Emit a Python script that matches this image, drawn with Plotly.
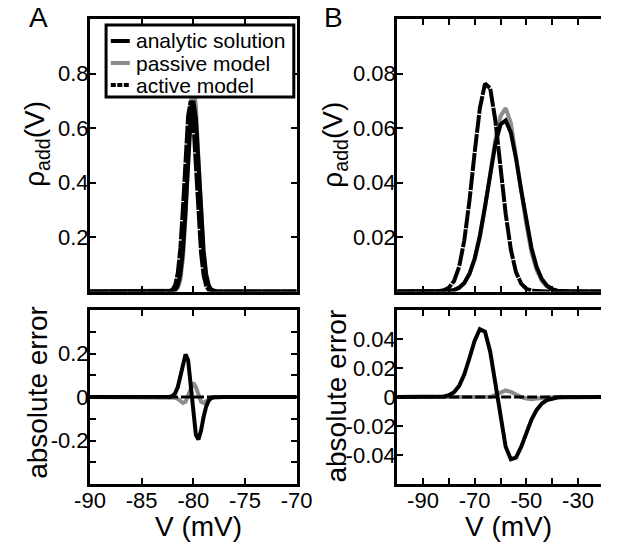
import plotly.graph_objects as go

W, H = 617, 544

# ---------------- Panel A data (V in mV) ----------------
a_v = [-90, -83, -82.75, -82.5, -82.25, -82, -81.75, -81.5, -81.25, -81, -80.75, -80.5,
       -80.25, -80, -79.75, -79.5, -79.25, -79, -78.75, -78.5, -78.25, -78, -77.75,
       -77.5, -77.25, -77, -70]
a_analytic = [0, 0, 0, 0, 0.0003, 0.0015, 0.0063, 0.022, 0.063, 0.150, 0.295, 0.476,
              0.636, 0.700, 0.636, 0.476, 0.295, 0.150, 0.063, 0.022, 0.0063, 0.0015,
              0.0003, 0, 0, 0, 0]
a_passive = [0, 0, 0, 0, 0.0001, 0.0005, 0.0033, 0.013, 0.044, 0.123, 0.273, 0.484,
             0.681, 0.765, 0.681, 0.484, 0.273, 0.123, 0.044, 0.013, 0.0033, 0.0005,
             0.0001, 0, 0, 0, 0]
a_active = [0, 0, 0, 0.0003, 0.0017, 0.0070, 0.024, 0.068, 0.160, 0.308, 0.491, 0.645,
            0.700, 0.626, 0.462, 0.281, 0.141, 0.059, 0.020, 0.0056, 0.0013, 0.0003,
            0, 0, 0, 0, 0]
a_err_passive = [0, 0, 0, 0, -0.0002, -0.001, -0.003, -0.009, -0.019, -0.027, -0.022, 0.008,
                 0.045, 0.065, 0.045, 0.008, -0.022, -0.027, -0.019, -0.009, -0.003, -0.001,
                 -0.0002, 0, 0, 0, 0]
a_err_active = [0, 0, 0, 0.0003, 0.0014, 0.0055, 0.018, 0.046, 0.097, 0.158, 0.196, 0.169,
                0.064, -0.074, -0.174, -0.195, -0.154, -0.091, -0.043, -0.016, -0.005, -0.0012,
                -0.0003, 0, 0, 0, 0]
a_zero_v = [-90, -70]
a_zero = [0, 0]

# ---------------- Panel B data (V in mV) ----------------
b_v = [-100, -90, -88, -86, -84, -82, -80, -78, -76, -74, -72, -70, -68, -66, -64, -62,
       -60, -58, -56, -54, -52, -50, -48, -46, -44, -42, -40, -38, -36, -34, -32, -30, -20]
b_analytic = [0, 0, 0, 0.000005, 0.00002, 0.00006, 0.0002, 0.00055, 0.0014, 0.0031, 0.0065,
              0.0121, 0.0204, 0.0312, 0.0432, 0.0541, 0.0613, 0.0628, 0.0583, 0.0489, 0.0372,
              0.0256, 0.0159, 0.0090, 0.0046, 0.0021, 0.0009, 0.0003, 0.0001, 0.00003,
              0.00001, 0, 0]
b_passive = [0, 0, 0, 0.000005, 0.00002, 0.00006, 0.0002, 0.00055, 0.0014, 0.0031, 0.0065,
             0.0117, 0.0198, 0.0306, 0.0432, 0.0556, 0.0643, 0.0673, 0.0618, 0.0504, 0.0372,
             0.0246, 0.0144, 0.0079, 0.0039, 0.0018, 0.0008, 0.0003, 0.0001, 0.00003,
             0.00001, 0, 0]
b_active = [0, 0.000001, 0.000005, 0.00003, 0.00011, 0.00043, 0.0014, 0.0038, 0.0091, 0.0188,
            0.0334, 0.0510, 0.0672, 0.0763, 0.0746, 0.0629, 0.0456, 0.0285, 0.0154, 0.0071,
            0.0029, 0.0010, 0.0003, 0.00008, 0.00002, 0, 0, 0, 0, 0, 0, 0, 0]
b_err_passive = [0, 0, 0, 0, 0, 0, 0, 0, 0, 0, 0, -0.0004, -0.0006, -0.0006, 0, 0.0015,
                 0.003, 0.0045, 0.0035, 0.0015, 0, -0.001, -0.0015, -0.0011, -0.0007, -0.0003,
                 -0.0001, 0, 0, 0, 0, 0, 0]
b_err_active = [0, 0, 0.000005, 0.00002, 0.0001, 0.00037, 0.0012, 0.0033, 0.0077, 0.0157,
                0.0269, 0.0389, 0.0468, 0.0451, 0.0314, 0.0088, -0.0157, -0.0343, -0.0429,
                -0.0418, -0.0344, -0.0246, -0.0156, -0.0089, -0.0045, -0.0021, -0.0009,
                -0.0003, -0.0001, 0, 0, 0, 0]
b_zero_v = [-100, -20]
b_zero = [0, 0]

names = ["analytic solution", "passive model", "active model"]

BLACK = "black"
GRAY = "#8c8c8c"
LW = 4
DASH = "18px,1.2px"

fig = go.Figure()

# Panel A top
fig.add_trace(go.Scatter(x=a_v, y=a_passive, mode="lines", name=names[1], showlegend=False,
                         line=dict(color=GRAY, width=LW), xaxis="x", yaxis="y"))
fig.add_trace(go.Scatter(x=a_v, y=a_analytic, mode="lines", name=names[0], showlegend=False,
                         line=dict(color=BLACK, width=LW), xaxis="x", yaxis="y"))
fig.add_trace(go.Scatter(x=a_v, y=a_active, mode="lines", name=names[2], showlegend=False,
                         line=dict(color=BLACK, width=LW, dash=DASH), xaxis="x", yaxis="y"))
# Panel A bottom
fig.add_trace(go.Scatter(x=a_v, y=a_err_passive, mode="lines", showlegend=False,
                         line=dict(color=GRAY, width=LW), xaxis="x2", yaxis="y2"))
fig.add_trace(go.Scatter(x=a_zero_v, y=a_zero, mode="lines", showlegend=False,
                         line=dict(color=BLACK, width=3, dash="10px,3px"), xaxis="x2", yaxis="y2"))
fig.add_trace(go.Scatter(x=a_v, y=a_err_active, mode="lines", showlegend=False,
                         line=dict(color=BLACK, width=LW), xaxis="x2", yaxis="y2"))
# Panel B top
fig.add_trace(go.Scatter(x=b_v, y=b_passive, mode="lines", showlegend=False,
                         line=dict(color=GRAY, width=LW), xaxis="x3", yaxis="y3"))
fig.add_trace(go.Scatter(x=b_v, y=b_analytic, mode="lines", showlegend=False,
                         line=dict(color=BLACK, width=LW), xaxis="x3", yaxis="y3"))
fig.add_trace(go.Scatter(x=b_v, y=b_active, mode="lines", showlegend=False,
                         line=dict(color=BLACK, width=LW, dash=DASH), xaxis="x3", yaxis="y3"))
# Panel B bottom
fig.add_trace(go.Scatter(x=b_v, y=b_err_passive, mode="lines", showlegend=False,
                         line=dict(color=GRAY, width=LW), xaxis="x4", yaxis="y4"))
fig.add_trace(go.Scatter(x=b_zero_v, y=b_zero, mode="lines", showlegend=False,
                         line=dict(color=BLACK, width=3, dash="10px,3px"), xaxis="x4", yaxis="y4"))
fig.add_trace(go.Scatter(x=b_v, y=b_err_active, mode="lines", showlegend=False,
                         line=dict(color=BLACK, width=LW), xaxis="x4", yaxis="y4"))


def px_x(p):
    return p / W


def px_y(p):
    return 1 - p / H


common = dict(showline=True, linewidth=3, linecolor=BLACK, ticks="inside",
              ticklen=6, tickwidth=2, tickcolor=BLACK, showgrid=False, zeroline=False,
              tickfont=dict(size=22, color=BLACK))
MINOR = dict(ticks="inside", ticklen=6, tickwidth=2, tickcolor=BLACK, showgrid=False)
XSO = -5
YSO = -6

xA = [px_x(78), px_x(296)]
xB = [px_x(402), 1.0]
yT = [px_y(291.5), px_y(19)]
yBm = [px_y(484), px_y(310)]

fig.update_layout(
    xaxis=dict(domain=xA, range=[-90, -70], anchor="y", tickvals=[-85, -80, -75],
               showticklabels=False, mirror="ticks", **common),
    yaxis=dict(domain=yT, range=[0, 1], anchor="x", tickvals=[0.2, 0.4, 0.6, 0.8],
               ticktext=["0.2", "0.4", "0.6", "0.8"], mirror="ticks",
               ticklabelstandoff=YSO, **common),
    xaxis2=dict(domain=xA, range=[-90, -70], anchor="y2", tickvals=[-90, -85, -80, -75, -70],
                ticktext=["-90", "-85", "-80", "-75", "-70"], mirror="ticks",
                ticklabelstandoff=XSO, **common),
    yaxis2=dict(domain=yBm, range=[-0.4, 0.4], anchor="x2",
                tickvals=[-0.2, 0, 0.2], ticktext=["-0.2", "0", "0.2"],
                minor=dict(tickvals=[-0.3, -0.1, 0.1, 0.3], **MINOR), mirror="ticks",
                ticklabelstandoff=YSO, **common),
    xaxis3=dict(domain=xB, range=[-100, -21.1], anchor="y3",
                tickvals=[-90, -80, -70, -60, -50, -40, -30], showticklabels=False,
                mirror="ticks", **common),
    yaxis3=dict(domain=yT, range=[0, 0.1], anchor="x3", tickvals=[0.02, 0.04, 0.06, 0.08],
                ticktext=["0.02", "0.04", "0.06", "0.08"], mirror=False,
                ticklabelstandoff=YSO, **common),
    xaxis4=dict(domain=xB, range=[-100, -21.1], anchor="y4",
                tickvals=[-90, -70, -50, -30], ticktext=["-90", "-70", "-50", "-30"],
                minor=dict(tickvals=[-80, -60, -40], **MINOR), mirror="ticks",
                ticklabelstandoff=XSO, **common),
    yaxis4=dict(domain=yBm, range=[-0.06, 0.06], anchor="x4",
                tickvals=[-0.04, -0.02, 0, 0.02, 0.04],
                ticktext=["-0.04", "-0.02", "0", "0.02", "0.04"], mirror=False,
                ticklabelstandoff=YSO, **common),
)

TF = dict(size=28, color=BLACK)
annotations = [
    dict(text="A", x=px_x(24), y=px_y(18), font=TF),
    dict(text="B", x=px_x(335), y=px_y(18), font=TF),
    dict(text="ρ<sub>add</sub>(V)", x=px_x(22), y=px_y(144), font=TF, textangle=-90),
    dict(text="ρ<sub>add</sub>(V)", x=px_x(335), y=px_y(145), font=TF, textangle=-90),
    dict(text="absolute error", x=px_x(22), y=px_y(392), font=TF, textangle=-90),
    dict(text="absolute error", x=px_x(337), y=px_y(396), font=TF, textangle=-90),
    dict(text="V (mV)", x=px_x(192), y=px_y(526), font=TF),
    dict(text="V (mV)", x=px_x(519), y=px_y(526), font=TF),
]

# legend (box, line samples, labels) in panel A
LEG_X0, LEG_X1, LEG_Y0, LEG_Y1 = 95, 293, 25, 97
row_y = [41, 63, 85]
styles = [dict(color=BLACK, width=LW), dict(color=GRAY, width=LW),
          dict(color=BLACK, width=LW, dash="5px,1.5px")]
shapes = [dict(type="rect", xref="paper", yref="paper", layer="above",
               x0=px_x(LEG_X0), x1=px_x(LEG_X1), y0=px_y(LEG_Y1), y1=px_y(LEG_Y0),
               fillcolor="white", line=dict(color=BLACK, width=3))]
for ry, st, nm in zip(row_y, styles, names):
    shapes.append(dict(type="line", xref="paper", yref="paper", layer="above",
                       x0=px_x(100), x1=px_x(120), y0=px_y(ry), y1=px_y(ry), line=st))
    annotations.append(dict(text=nm, x=px_x(124), y=px_y(ry), font=dict(size=21, color=BLACK),
                            xanchor="left"))

for a in annotations:
    a.setdefault("xanchor", "center")
    a.update(xref="paper", yref="paper", showarrow=False, yanchor="middle")

fig.update_layout(
    width=W, height=H, margin=dict(l=0, r=0, t=0, b=0),
    paper_bgcolor="white", plot_bgcolor="white",
    font=dict(family="Liberation Sans, Arial, sans-serif", size=22, color=BLACK),
    showlegend=False,
    annotations=annotations,
    shapes=shapes,
)

fig.write_html("out.html")
